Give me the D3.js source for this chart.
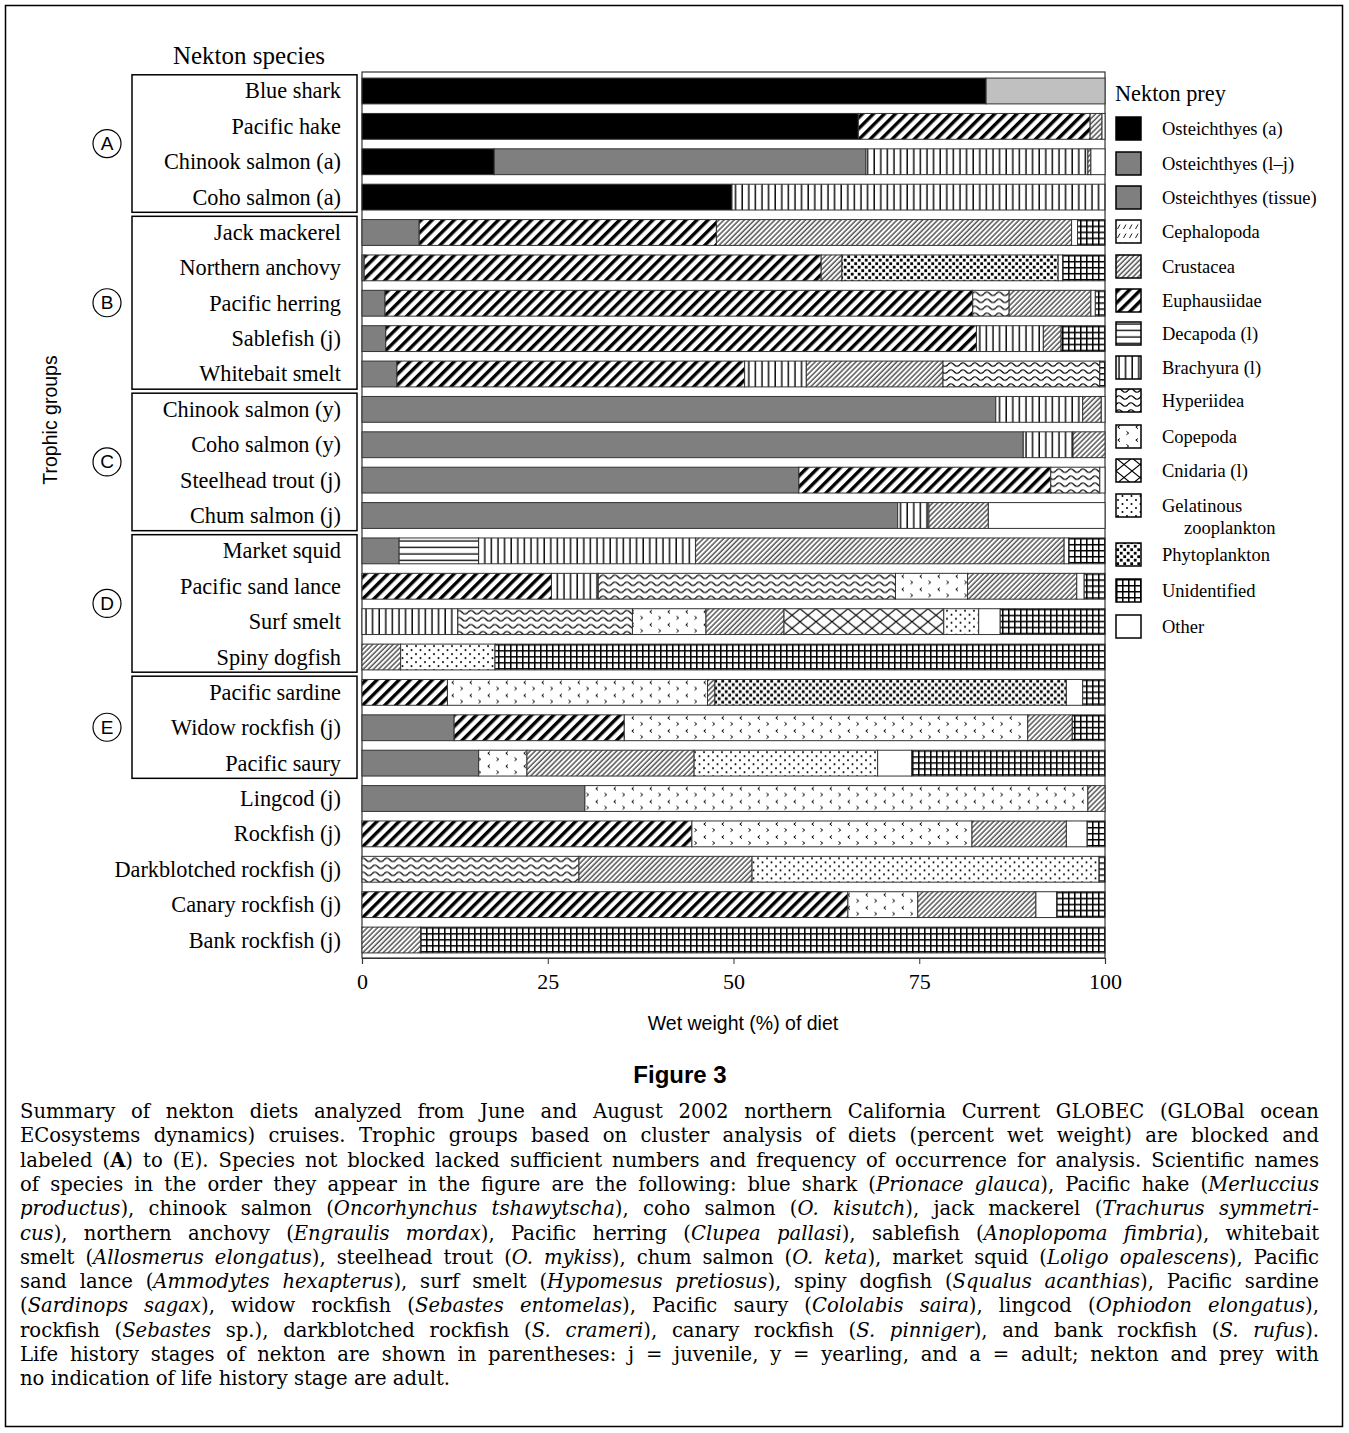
<!DOCTYPE html>
<html>
<head>
<meta charset="utf-8">
<script src="https://cdnjs.cloudflare.com/ajax/libs/d3/7.8.5/d3.min.js"></script>
<style>
  body { margin: 0; background: #fff; }
  svg text { fill: #000; }
</style>
</head>
<body>
<svg id="fig" width="1349" height="1433"></svg>
<script>
// prey categories (legend order)
var preyKeys = ["osa", "osl", "ost", "cep", "cru", "eup", "dec", "bra", "hyp", "cop", "cni", "gel", "phy", "uni", "oth"];
var preyNames = ["Osteichthyes (a)", "Osteichthyes (l\u2013j)", "Osteichthyes (tissue)", "Cephalopoda", "Crustacea",
  "Euphausiidae", "Decapoda (l)", "Brachyura (l)", "Hyperiidea", "Copepoda", "Cnidaria (l)",
  "Gelatinous|zooplankton", "Phytoplankton", "Unidentified", "Other"];

// nekton species, top to bottom
var species = ["Blue shark", "Pacific hake", "Chinook salmon (a)", "Coho salmon (a)",
  "Jack mackerel", "Northern anchovy", "Pacific herring", "Sablefish (j)", "Whitebait smelt",
  "Chinook salmon (y)", "Coho salmon (y)", "Steelhead trout (j)", "Chum salmon (j)",
  "Market squid", "Pacific sand lance", "Surf smelt", "Spiny dogfish",
  "Pacific sardine", "Widow rockfish (j)", "Pacific saury",
  "Lingcod (j)", "Rockfish (j)", "Darkblotched rockfish (j)", "Canary rockfish (j)", "Bank rockfish (j)"];

// trophic groups: label and number of species in each block
var groupLabels = ["A", "B", "C", "D", "E"];
var groupSizes = [4, 5, 4, 4, 3];

// wet weight % per species, segments left to right ("gry" = unlabelled grey)
var diet = [
  [["osa", 84], ["gry", 16]],
  [["osa", 66.8], ["eup", 31.2], ["cru", 1.6], ["oth", 0.4]],
  [["osa", 17.8], ["osl", 50], ["bra", 29.9], ["cru", 0.4], ["oth", 1.9]],
  [["osa", 49.8], ["bra", 50.2]],
  [["ost", 7.7], ["eup", 40], ["cru", 47.8], ["oth", 0.8], ["uni", 3.7]],
  [["ost", 0.3], ["eup", 61.5], ["cru", 2.8], ["phy", 29.1], ["oth", 0.6], ["uni", 5.7]],
  [["ost", 3.1], ["eup", 79.1], ["hyp", 4.9], ["cru", 11], ["oth", 0.6], ["uni", 1.3]],
  [["ost", 3.2], ["eup", 79.5], ["bra", 9], ["cru", 2.4], ["uni", 5.9]],
  [["ost", 4.7], ["eup", 46.8], ["bra", 8.3], ["cru", 18.4], ["hyp", 21.1], ["uni", 0.7]],
  [["osl", 85.3], ["bra", 11.7], ["cru", 2.5], ["oth", 0.5]],
  [["osl", 89], ["bra", 6.7], ["cru", 4.3]],
  [["osl", 58.8], ["eup", 33.9], ["hyp", 6.6], ["oth", 0.7]],
  [["osl", 72.1], ["bra", 4.2], ["cru", 8], ["oth", 15.7]],
  [["ost", 5], ["dec", 10.7], ["bra", 29.2], ["cru", 49.6], ["oth", 0.6], ["uni", 4.9]],
  [["eup", 25.5], ["bra", 6.3], ["hyp", 40], ["cop", 9.7], ["cru", 14.7], ["oth", 1], ["uni", 2.8]],
  [["bra", 12.9], ["hyp", 23.5], ["cop", 9.9], ["cru", 10.5], ["cni", 21.5], ["gel", 4.7], ["oth", 2.9], ["uni", 14.1]],
  [["cru", 5.2], ["gel", 12.7], ["uni", 82.1]],
  [["eup", 11.5], ["cop", 35], ["cru", 1], ["phy", 47.3], ["oth", 2.2], ["uni", 3]],
  [["ost", 12.4], ["eup", 22.9], ["cop", 54.3], ["cru", 6], ["uni", 4.4]],
  [["ost", 15.7], ["cop", 6.5], ["cru", 22.5], ["gel", 24.7], ["oth", 4.6], ["uni", 26]],
  [["ost", 30], ["cop", 67.7], ["cru", 2.3]],
  [["eup", 44.4], ["cop", 37.7], ["cru", 12.7], ["oth", 2.8], ["uni", 2.4]],
  [["hyp", 29.2], ["cru", 23.3], ["gel", 46.7], ["uni", 0.8]],
  [["eup", 65.4], ["cop", 9.4], ["cru", 15.9], ["oth", 2.8], ["uni", 6.5]],
  [["cru", 7.9], ["uni", 92.1]]
];

var xTicks = [0, 25, 50, 75, 100];

// caption lines; *..* italic, **..** bold
var caption = [
  "Summary of nekton diets analyzed from June and August 2002 northern California Current GLOBEC (GLOBal ocean",
  "ECosystems dynamics) cruises. Trophic groups based on cluster analysis of diets (percent wet weight) are blocked and",
  "labeled (**A**) to (E). Species not blocked lacked sufficient numbers and frequency of occurrence for analysis. Scientific names",
  "of species in the order they appear in the figure are the following: blue shark (*Prionace glauca*), Pacific hake (*Merluccius*",
  "*productus*), chinook salmon (*Oncorhynchus tshawytscha*), coho salmon (*O. kisutch*), jack mackerel (*Trachurus symmetri-*",
  "*cus*), northern anchovy (*Engraulis mordax*), Pacific herring (*Clupea pallasi*), sablefish (*Anoplopoma fimbria*), whitebait",
  "smelt (*Allosmerus elongatus*), steelhead trout (*O. mykiss*), chum salmon (*O. keta*), market squid (*Loligo opalescens*), Pacific",
  "sand lance (*Ammodytes hexapterus*), surf smelt (*Hypomesus pretiosus*), spiny dogfish (*Squalus acanthias*), Pacific sardine",
  "(*Sardinops sagax*), widow rockfish (*Sebastes entomelas*), Pacific saury (*Cololabis saira*), lingcod (*Ophiodon elongatus*),",
  "rockfish (*Sebastes* sp.), darkblotched rockfish (*S. crameri*), canary rockfish (*S. pinniger*), and bank rockfish (*S. rufus*).",
  "Life history stages of nekton are shown in parentheses: j = juvenile, y = yearling, and a = adult; nekton and prey with",
  "no indication of life history stage are adult."
];

var serif = "'Liberation Serif', 'Times New Roman', serif";
var sans = "'Liberation Sans', Arial, sans-serif";

var svg = d3.select("#fig");

// outer figure border
svg.append("rect").attr("x", 5.5).attr("y", 5.5).attr("width", 1337).attr("height", 1421)
  .attr("fill", "none").attr("stroke", "#000").attr("stroke-width", 1.5);

// ---- patterns ----
var defs = svg.append("defs");

function pat(id, w, h, rot)
{
  var p = defs.append("pattern").attr("id", "p-" + id)
    .attr("patternUnits", "userSpaceOnUse").attr("width", w).attr("height", h);
  if (rot) p.attr("patternTransform", "rotate(" + rot + ")");
  p.append("rect").attr("width", w).attr("height", h).attr("fill", "#fff");
  return p;
}

pat("cep", 6, 9).append("path").attr("d", "M1.5,6 L4,1.5").attr("stroke", "#000").attr("stroke-width", 0.9);
pat("cru", 3.6, 10, 45).append("line").attr("x1", 1).attr("x2", 1).attr("y1", 0).attr("y2", 10)
  .attr("stroke", "#000").attr("stroke-width", 1);
pat("eup", 7.8, 10, 45).append("rect").attr("x", 0).attr("width", 3.4).attr("height", 10).attr("fill", "#000");
pat("dec", 10, 6.5).append("line").attr("x1", 0).attr("x2", 10).attr("y1", 3).attr("y2", 3)
  .attr("stroke", "#000").attr("stroke-width", 1.3);
pat("bra", 6.6, 10).append("line").attr("x1", 3).attr("x2", 3).attr("y1", 0).attr("y2", 10)
  .attr("stroke", "#000").attr("stroke-width", 1.4);
pat("hyp", 12, 7).append("path").attr("d", "M0,3.5 Q3,0 6,3.5 T12,3.5").attr("fill", "none")
  .attr("stroke", "#000").attr("stroke-width", 1.2);
pat("cop", 18, 13).append("path").attr("d", "M4,1.5 l-2.2,1.6 l2.2,1.6 M10.5,7.5 l2.2,1.6 l-2.2,1.6")
  .attr("fill", "none").attr("stroke", "#000").attr("stroke-width", 1);
pat("cni", 16, 13).append("path").attr("d", "M0,0 L16,13 M16,0 L0,13").attr("fill", "none")
  .attr("stroke", "#000").attr("stroke-width", 1.1);
var pg = pat("gel", 9, 8);
pg.append("circle").attr("cx", 2).attr("cy", 2).attr("r", 1).attr("fill", "#000");
pg.append("circle").attr("cx", 6.5).attr("cy", 6).attr("r", 1).attr("fill", "#000");
var pp = pat("phy", 7, 7);
pp.append("rect").attr("x", 0.3).attr("y", 0.3).attr("width", 2.8).attr("height", 2.8).attr("fill", "#000");
pp.append("rect").attr("x", 3.8).attr("y", 3.8).attr("width", 2.8).attr("height", 2.8).attr("fill", "#000");
pat("uni", 6, 6).append("path").attr("d", "M0,0.75 H6 M0.75,0 V6").attr("stroke", "#000").attr("stroke-width", 1.6);

var solid = { osa: "#000", osl: "#7f7f7f", ost: "#7f7f7f", oth: "#fff", gry: "#c0c0c0" };
function fillOf(k) { return solid[k] || "url(#p-" + k + ")"; }

// ---- scales ----
var x = d3.scaleLinear().domain([0, 100]).range([362, 1105]);
var y = d3.scaleBand().domain(species).range([73.3, 957.7]).paddingInner(0.27).paddingOuter(0.135);

// plot frame
svg.append("rect").attr("x", 362).attr("y", 72).attr("width", 743).attr("height", 886)
  .attr("fill", "none").attr("stroke", "#333").attr("stroke-width", 1.2);

// bars
var rows = svg.append("g").selectAll("g").data(diet).join("g")
  .attr("transform", function (d, i) { return "translate(0," + y(species[i]) + ")"; });

rows.selectAll("rect").data(function (d) {
    var c = 0;
    return d.map(function (s) { var o = { k: s[0], x0: c, x1: c + s[1] }; c += s[1]; return o; });
  }).join("rect")
  .attr("x", function (d) { return x(d.x0); })
  .attr("width", function (d) { return x(d.x1) - x(d.x0); })
  .attr("height", y.bandwidth())
  .attr("fill", function (d) { return fillOf(d.k); })
  .attr("stroke", "#333").attr("stroke-width", 1);

// x axis
var ax = svg.append("g").attr("transform", "translate(0,958)")
  .call(d3.axisBottom(x).tickValues(xTicks).tickSize(6).tickPadding(9));
ax.select(".domain").attr("stroke", "#333").attr("stroke-width", 1.2);
ax.selectAll("line").attr("stroke", "#333");
ax.selectAll("text").attr("font-family", serif).attr("font-size", 22);

svg.append("text").attr("x", 743).attr("y", 1030).attr("text-anchor", "middle")
  .attr("font-family", sans).attr("font-size", 19.5).text("Wet weight (%) of diet");

// species labels
svg.append("g").selectAll("text").data(species).join("text")
  .attr("x", 341).attr("y", function (d) { return y(d) + y.bandwidth() / 2 + 7.5; })
  .attr("text-anchor", "end").attr("font-family", serif).attr("font-size", 22.3)
  .text(function (d) { return d; });

svg.append("text").attr("x", 249).attr("y", 64).attr("text-anchor", "middle")
  .attr("font-family", serif).attr("font-size", 25).text("Nekton species");

svg.append("text").attr("transform", "translate(57,420) rotate(-90)").attr("text-anchor", "middle")
  .attr("font-family", sans).attr("font-size", 19.5).text("Trophic groups");

// group blocks
var start = 0;
groupLabels.forEach(function (g, i) {
  var top = y(species[start]) - y.step() * y.paddingInner() / 2 + 1.5;
  var last = species[start + groupSizes[i] - 1];
  var bot = y(last) + y.bandwidth() + y.step() * y.paddingInner() / 2 - 2.5;
  svg.append("rect").attr("x", 132).attr("y", top).attr("width", 225).attr("height", bot - top)
    .attr("fill", "none").attr("stroke", "#000").attr("stroke-width", 1.5);
  var cy = (top + bot) / 2;
  svg.append("circle").attr("cx", 107).attr("cy", cy).attr("r", 14)
    .attr("fill", "#fff").attr("stroke", "#000").attr("stroke-width", 1.2);
  svg.append("text").attr("x", 107).attr("y", cy + 6.5).attr("text-anchor", "middle")
    .attr("font-family", sans).attr("font-size", 19).text(g);
  start += groupSizes[i];
});

// legend
svg.append("text").attr("x", 1115).attr("y", 101).attr("font-family", serif).attr("font-size", 22.3)
  .text("Nekton prey");

var legY = [129, 164, 198, 232, 267, 301, 334, 368, 401, 437, 471, 506, 555, 591, 627];
var leg = svg.append("g").selectAll("g").data(preyKeys).join("g")
  .attr("transform", function (d, i) { return "translate(1116," + legY[i] + ")"; });
leg.append("rect").attr("x", 0).attr("y", -12).attr("width", 25).attr("height", 23)
  .attr("fill", function (d) { return fillOf(d); }).attr("stroke", "#000").attr("stroke-width", 1.5);
leg.append("text").attr("x", 46).attr("y", 6).attr("font-family", serif).attr("font-size", 18.5)
  .each(function (d, i) {
    var parts = preyNames[i].split("|");
    var t = d3.select(this);
    t.append("tspan").text(parts[0]);
    if (parts[1]) t.append("tspan").attr("x", 68).attr("dy", 22).text(parts[1]);
  });

// figure caption
svg.append("text").attr("x", 680).attr("y", 1083).attr("text-anchor", "middle")
  .attr("font-family", sans).attr("font-weight", "bold").attr("font-size", 24).text("Figure 3");

var capLeft = 20, capRight = 1319;
caption.forEach(function (line, i) {
  var t = svg.append("text").attr("x", capLeft).attr("y", 1118 + i * 24.3)
    .attr("font-family", "'DejaVu Serif', serif").attr("font-size", 19.6).attr("xml:space", "preserve");
  line.split(/(\*\*[^*]+\*\*|\*[^*]+\*)/).forEach(function (seg) {
    if (!seg) return;
    var ts = t.append("tspan");
    if (seg.indexOf("**") === 0) ts.attr("font-weight", "bold").text(seg.slice(2, -2));
    else if (seg.indexOf("*") === 0) ts.attr("font-style", "italic").text(seg.slice(1, -1));
    else ts.text(seg);
  });
  if (i < caption.length - 1) {
    var w = t.node().getComputedTextLength();
    var spaces = line.split(" ").length - 1;
    t.attr("word-spacing", (capRight - capLeft - w) / spaces);
  }
});
</script>
</body>
</html>
